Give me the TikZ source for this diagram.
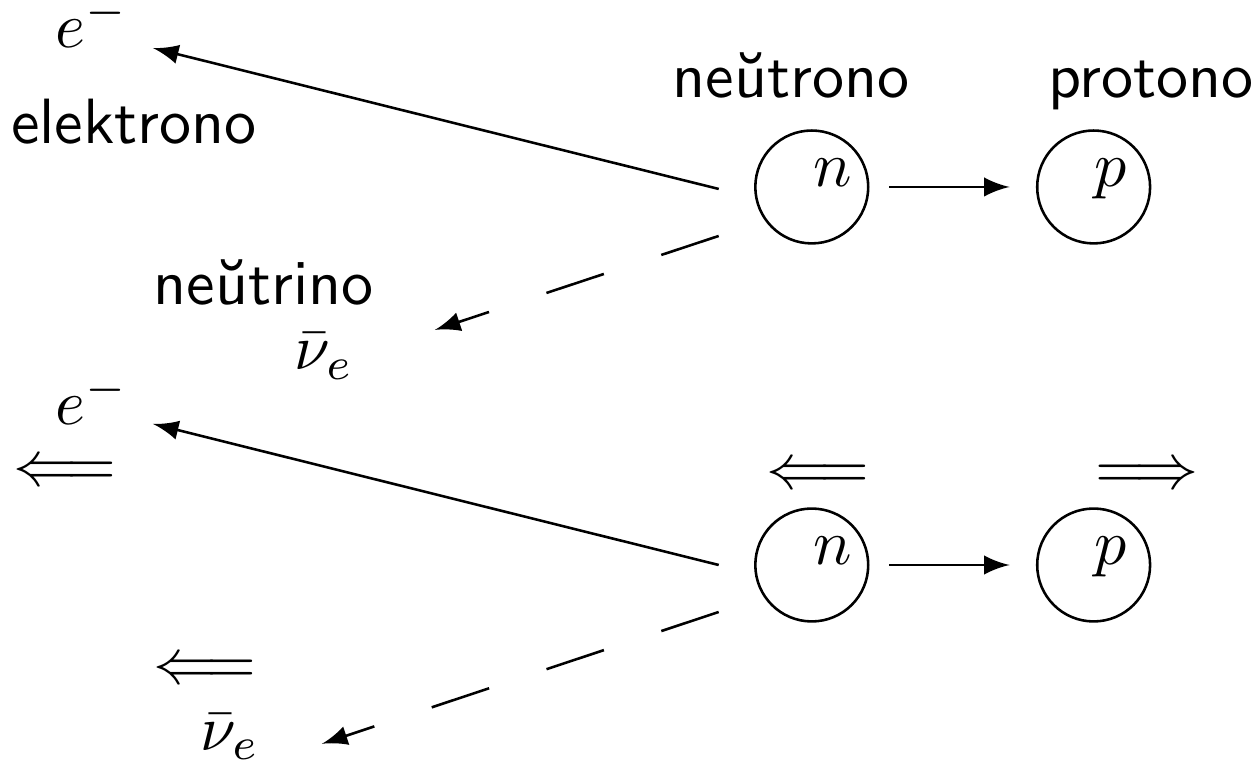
\documentclass[tikz,border=0pt]{standalone}
\usepackage{amsmath, amssymb}
\usepackage{fontspec}
\usepackage{tikz}

\begin{document}
\begin{tikzpicture}[
    particle/.style={draw, circle, minimum size=0.62cm, inner sep=0pt},
    plabel/.style={anchor=base west, inner sep=0pt},
    word/.style={font=\sffamily, anchor=base, inner sep=0pt},
    sym/.style={anchor=base, inner sep=0pt},
    nudash/.style={dash pattern=on 9.45pt off 9.45pt}
  ]
  \useasboundingbox (0,0) rectangle (6.914,4.206);

  % before the decay
  \node[particle] (n1) at (4.458,3.179) {};
  \node[particle] (p1) at (6.006,3.179) {};
  \node[plabel] (n1lbl) at (n1.center) {$n$};
  \node[plabel] (p1lbl) at (p1.center) {$p$};
  \node[word] (neutrono) at (4.343,3.673) {neŭtrono};
  \node[word] (protono) at (6.322,3.673) {protono};
  \node[sym] (e1) at (0.505,3.943) {$e^-$};
  \node[word] (elektrono) at (0.736,3.420) {elektrono};
  \node[word] (neutrino) at (1.449,2.531) {neŭtrino};
  \node[sym] (nu1) at (1.78,2.175) {$\bar{\nu}_e$};
  \coordinate (e1from) at (3.947,3.168);
  \coordinate (e1to) at (0.840,3.942);
  \coordinate (nu1from) at (3.947,2.910);
  \coordinate (nu1to) at (2.388,2.394);
  \draw[-latex, shorten <=3.1pt, shorten >=4.1pt] (n1) -- (p1);
  \draw[-latex] (e1from) -- (e1to);
  \draw[-latex, nudash] (nu1from) -- (nu1to);

  % momenta
  \node[particle] (n2) at (4.458,1.103) {};
  \node[particle] (p2) at (6.006,1.103) {};
  \node[plabel] (n2lbl) at (n2.center) {$n$};
  \node[plabel] (p2lbl) at (p2.center) {$p$};
  \node[sym] (e2) at (0.505,1.872) {$e^-$};
  \node[sym] (e2mom) at (0.357,1.537) {$\Longleftarrow$};
  \node[sym] (n2mom) at (4.491,1.521) {$\Longleftarrow$};
  \node[sym] (p2mom) at (6.297,1.521) {$\Longrightarrow$};
  \node[sym] (nu2mom) at (1.125,0.450) {$\Longleftarrow$};
  \node[sym] (nu2) at (1.263,0.085) {$\bar{\nu}_e$};
  \coordinate (e2from) at (3.947,1.103);
  \coordinate (e2to) at (0.840,1.878);
  \coordinate (nu2from) at (3.947,0.845);
  \coordinate (nu2to) at (1.768,0.121);
  \draw[-latex, shorten <=3.1pt, shorten >=4.1pt] (n2) -- (p2);
  \draw[-latex] (e2from) -- (e2to);
  \draw[-latex, nudash] (nu2from) -- (nu2to);
\end{tikzpicture}
\end{document}
